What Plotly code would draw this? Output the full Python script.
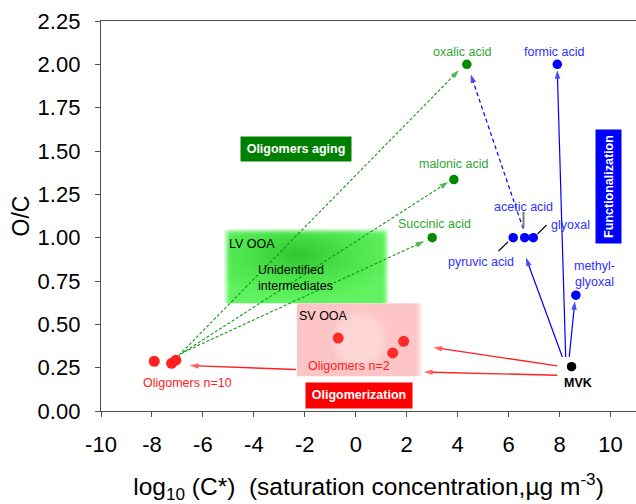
import base64
import plotly.graph_objects as go

# ---------------- data ----------------
green_names = ["oxalic acid", "malonic acid", "Succinic acid"]
green_x = [4.36, 3.85, 3.0]
green_y = [2.0, 1.335, 1.0]

blue_names = ["formic acid", "pyruvic acid", "acetic acid", "glyoxal", "methyl-<br>glyoxal"]
blue_x = [7.91, 6.18, 6.63, 6.97, 8.64]
blue_y = [2.0, 1.0, 1.0, 1.0, 0.668]

mvk_x = [8.47]
mvk_y = [0.256]

olig10_x = [-7.91, -7.23, -7.06]
olig10_y = [0.287, 0.275, 0.293]
olig2_x = [-0.69, 1.45, 1.88]
olig2_y = [0.421, 0.335, 0.402]

# arrows: start x, start y, tip x, tip y
green_arrow_x0 = [-6.95, -6.85, -6.75]
green_arrow_y0 = [0.32, 0.33, 0.34]
green_arrow_x1 = [4.05, 3.63, 2.69]
green_arrow_y1 = [1.966, 1.321, 0.979]

blue_arrow_x0 = [8.24, 8.11, 8.38]
blue_arrow_y0 = [0.312, 0.312, 0.312]
blue_arrow_x1 = [7.91, 6.68, 8.60]
blue_arrow_y1 = [1.966, 0.885, 0.633]

blue_dash_x = [6.57, 4.51]
blue_dash_y = [1.052, 1.943]

red_arrow_x0 = [7.91, 7.91, -2.35]
red_arrow_y0 = [0.26, 0.206, 0.239]
red_arrow_x1 = [3.05, 2.68, -6.51]
red_arrow_y1 = [0.367, 0.225, 0.262]

x_tick_vals = [-10, -8, -6, -4, -2, 0, 2, 4, 6, 8, 10]
x_tick_text = ["-10", "-8", "-6", "-4", "-2", "0", "2", "4", "6", "8", "10"]
y_tick_vals = [0, 0.25, 0.5, 0.75, 1.0, 1.25, 1.5, 1.75, 2.0, 2.25]

# ---------------- geometry helpers (pixel -> data) ----------------
L, R, T, B = 101, 0, 21, 93
W, H = 636, 504
XMIN, XMAX, YMIN, YMAX = -10, 11, 0, 2.25
def px2x(px):
    return XMIN + (px - L) * (XMAX - XMIN) / (W - L - R)
def py2y(py):
    return YMIN + (H - B - py) * (YMAX - YMIN) / (H - T - B)

FONT = "Liberation Sans, Arial, sans-serif"
GREEN_PT = "#008a00"
GREEN_TXT = "#33a533"
GREEN_LN = "#119911"
BLUE = "#0000ff"
BLUE_TXT = "#3030ff"
RED = "#ff2020"

fig = go.Figure()

def arrow(x0, y0, x1, y1, color, dash="solid", width=1.2, head=9):
    fig.add_trace(go.Scatter(
        x=[x0, x1], y=[y0, y1], mode="lines+markers",
        line=dict(color=color, width=width, dash=dash),
        marker=dict(symbol="arrow", size=[0, head], color=color, angleref="previous",
                    line=dict(width=0)),
        hoverinfo="skip", showlegend=False))

for i in range(3):
    arrow(green_arrow_x0[i], green_arrow_y0[i], green_arrow_x1[i], green_arrow_y1[i],
          GREEN_LN, dash="3px,2px", width=1.1, head=9)
for i in range(3):
    arrow(blue_arrow_x0[i], blue_arrow_y0[i], blue_arrow_x1[i], blue_arrow_y1[i], BLUE)
arrow(blue_dash_x[0], blue_dash_y[0], blue_dash_x[1], blue_dash_y[1], BLUE, dash="4px,3px")
for i in range(3):
    arrow(red_arrow_x0[i], red_arrow_y0[i], red_arrow_x1[i], red_arrow_y1[i], RED, width=1.4)

# leader lines
fig.add_trace(go.Scatter(x=[px2x(523.5), px2x(523.5)], y=[py2y(211.7), py2y(228.3)], mode="lines",
                         line=dict(color="#7a7a7a", width=2), hoverinfo="skip", showlegend=False))
fig.add_trace(go.Scatter(x=[px2x(498.5), px2x(508), None, px2x(537.5), px2x(546.5)],
                         y=[py2y(251), py2y(242), None, py2y(234), py2y(225)], mode="lines",
                         line=dict(color="black", width=1.1), hoverinfo="skip", showlegend=False))

# points
fig.add_trace(go.Scatter(x=olig10_x, y=olig10_y, mode="markers",
                         marker=dict(color=RED, size=11), showlegend=False))
fig.add_trace(go.Scatter(x=olig2_x, y=olig2_y, mode="markers",
                         marker=dict(color="#ff2a2a", size=11), showlegend=False))
fig.add_trace(go.Scatter(x=green_x, y=green_y, mode="markers",
                         marker=dict(color=GREEN_PT, size=9.5), showlegend=False))
fig.add_trace(go.Scatter(x=blue_x, y=blue_y, mode="markers",
                         marker=dict(color=BLUE, size=9.5), showlegend=False))
fig.add_trace(go.Scatter(x=mvk_x, y=mvk_y, mode="markers",
                         marker=dict(color="black", size=9.5), showlegend=False))

# ---------------- soft background boxes (SVG images) ----------------
def svg_uri(svg):
    return "data:image/svg+xml;base64," + base64.b64encode(svg.encode()).decode()

green_svg = """<svg xmlns='http://www.w3.org/2000/svg' width='165' height='75' viewBox='0 0 165 75' preserveAspectRatio='none'>
<defs>
<radialGradient id='g' cx='0.45' cy='0.35' r='0.6'>
<stop offset='0' stop-color='#30c630'/><stop offset='0.5' stop-color='#4ae24a'/><stop offset='1' stop-color='#60f260'/>
</radialGradient>
<filter id='b' x='-20%' y='-20%' width='140%' height='140%'><feGaussianBlur stdDeviation='2.2'/></filter>
<mask id='m'><rect x='2.5' y='2' width='160' height='85' fill='white' filter='url(#b)'/></mask>
</defs>
<rect x='0' y='0' width='165' height='75' fill='url(#g)' mask='url(#m)'/>
</svg>"""

pink_svg = """<svg xmlns='http://www.w3.org/2000/svg' width='126' height='74' viewBox='0 0 126 74' preserveAspectRatio='none'>
<defs>
<filter id='b' x='-20%' y='-20%' width='140%' height='140%'><feGaussianBlur stdDeviation='2.5'/></filter>
<filter id='c' x='-50%' y='-50%' width='200%' height='200%'><feGaussianBlur stdDeviation='3'/></filter>
<mask id='m'><rect x='-10' y='-10' width='133' height='94' fill='white' filter='url(#b)'/></mask>
</defs>
<g mask='url(#m)'>
<rect x='0' y='0' width='126' height='74' fill='#fdc5c5'/>
<circle cx='63' cy='37' r='26' fill='#fed6d6' filter='url(#c)'/>
</g>
</svg>"""

images = [
    dict(source=svg_uri(green_svg), xref="x", yref="y", x=px2x(224), y=py2y(228.7),
         sizex=px2x(389) - px2x(224), sizey=py2y(228.7) - py2y(303.5),
         sizing="stretch", xanchor="left", yanchor="top", layer="below"),
    dict(source=svg_uri(pink_svg), xref="x", yref="y", x=px2x(297), y=py2y(303.2),
         sizex=px2x(423) - px2x(297), sizey=py2y(303.2) - py2y(376.5),
         sizing="stretch", xanchor="left", yanchor="top", layer="below"),
]

# ---------------- annotations ----------------
ann = []
def label(x, y, text, color, dx=0, dy=0, size=12.5, bold=False, align="center", xanchor="center"):
    ann.append(dict(x=x, y=y, xref="x", yref="y", text=f"<b>{text}</b>" if bold else text,
                    showarrow=False, xshift=dx, yshift=dy, align=align, xanchor=xanchor,
                    font=dict(family=FONT, size=size, color=color)))

g_off = [(-5, 12.5), (0, 15.5), (2, 13.5)]
for n, x, y, (dx, dy) in zip(green_names, green_x, green_y, g_off):
    label(x, y, n, GREEN_TXT, dx, dy)
b_off = [(-3, 12.5), (-32, -24), (-1.5, 30.5), (37, 12.5), (19, 21)]
for n, x, y, (dx, dy) in zip(blue_names, blue_x, blue_y, b_off):
    label(x, y, n, BLUE_TXT, dx, dy)
label(mvk_x[0], mvk_y[0], "MVK", "black", 6.5, -16.5, bold=True)
label(px2x(187), py2y(382.7), "Oligomers n=10", RED)
label(px2x(349), py2y(365.7), "Oligomers n=2", RED)
label(px2x(323.7), py2y(315.7), "SV OOA", "black")
label(px2x(252), py2y(244), "LV OOA", "black")
label(px2x(255.7), py2y(278), "Unidentified<br>intermediates", "black", align="left", xanchor="left")

def box_label(cx, cy, w, h, text, bg, angle=0):
    ann.append(dict(x=px2x(cx), y=py2y(cy), xref="x", yref="y", text=f"<b>{text}</b>",
                    showarrow=False, bgcolor=bg, width=w, height=h, textangle=angle,
                    borderpad=0, xanchor="center", yanchor="middle",
                    font=dict(family=FONT, size=12.5, color="white")))

box_label(296, 148.5, 110, 24, "Oligomers aging", "#008000")
box_label(608.5, 186.5, 113, 25, "Functionalization", "#0000ff", angle=-90)
box_label(358.8, 395, 106, 24.5, "Oligomerization", "#ff0000")

fig.update_layout(
    width=W, height=H, margin=dict(l=L, r=R, t=T, b=B),
    plot_bgcolor="white", paper_bgcolor="white",
    font=dict(family=FONT, color="black"),
    images=images, annotations=ann, showlegend=False,
    xaxis=dict(range=[XMIN, XMAX], tickvals=x_tick_vals, ticktext=x_tick_text,
               showgrid=False, zeroline=False, showline=True, linecolor="#505050",
               linewidth=1.3, mirror=True, ticks="outside", ticklen=5, tickcolor="#505050",
               tickwidth=1.3, tickfont=dict(size=22, family=FONT), ticklabelstandoff=8,
               title=dict(text="log<sub>10</sub> (C*)&nbsp;&nbsp;(saturation concentration,µg m<sup>-3</sup>)",
                          font=dict(size=24.5, family=FONT), standoff=24)),
    yaxis=dict(range=[YMIN, YMAX], tickvals=y_tick_vals, tickformat=".2f",
               showgrid=False, zeroline=False, showline=True, linecolor="#505050",
               linewidth=1.3, ticks="outside", ticklen=5, tickcolor="#505050", tickwidth=1.3,
               tickfont=dict(size=22, family=FONT), ticklabelstandoff=10,
               title=dict(text="O/C", font=dict(size=23, family=FONT), standoff=1)),
)

fig.write_html("out.html", config={"displayModeBar": False},
               post_script="document.body.style.margin='0';")
